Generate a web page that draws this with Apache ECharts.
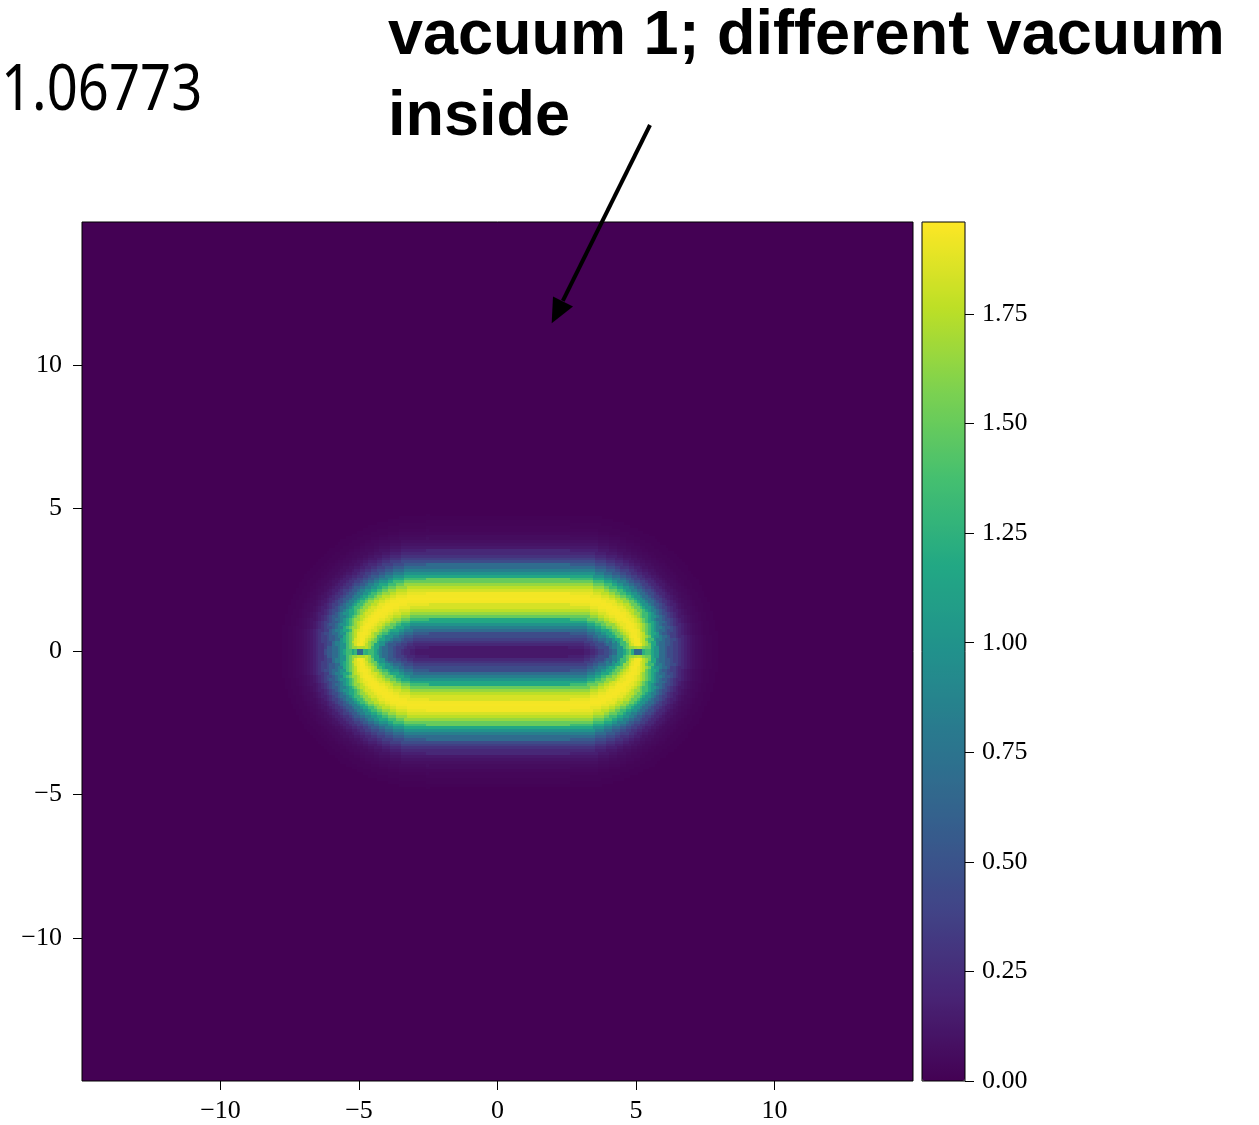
<!DOCTYPE html>
<html>
<head>
<meta charset="utf-8">
<title>vacuum 1; different vacuum inside</title>
<script src="https://cdn.jsdelivr.net/npm/echarts@6.0.0/dist/echarts.min.js"></script>
<style>
  html, body { margin: 0; padding: 0; background: #fff; }
  #chart { width: 1259px; height: 1125px; }
</style>
</head>
<body>
<div id="chart"></div>
<script>
// texts
const frameLabel = '1.06773';
const noteLines = ['vacuum 1; different vacuum', 'inside'];

// ticks
const xTicks = [-10, -5, 0, 5, 10];
const yTicks = [-10, -5, 0, 5, 10];
const barTicks = [0, 0.25, 0.5, 0.75, 1, 1.25, 1.5, 1.75];
const valueMax = 1.96;

// centre line of the upper wall (lower wall = mirror)
const wallX = [-4.95, -4.93, -4.88, -4.80, -4.70, -4.50, -4.30, -3.90, -3.50, -3.00, -2.50,
  0, 2.65, 3.15, 3.65, 4.05, 4.45, 4.65, 4.85, 4.95, 5.03, 5.08, 5.10];
const wallY = [0, 0.24, 0.45, 0.66, 0.84, 1.10, 1.29, 1.56, 1.73, 1.86, 1.90,
  1.90, 1.90, 1.86, 1.73, 1.56, 1.29, 1.10, 0.84, 0.66, 0.45, 0.24, 0];

// value across the wall, every 0.1 of distance from its centre line
const wallProfile = [1.94, 1.93, 1.90, 1.84, 1.76, 1.65, 1.50, 1.34, 1.17, 1.00,
  0.84, 0.69, 0.56, 0.45, 0.36, 0.28, 0.22, 0.17, 0.13, 0.10,
  0.08, 0.06, 0.05, 0.04, 0.03, 0.02, 0.02, 0.01, 0.01, 0, 0];

// the wall gets thinner close to the points where the two walls meet:
// relative thickness every 0.25 of distance from such a point
const wallThickness = [0.5, 0.55, 0.65, 0.75, 0.85, 0.93, 1];

// small dark node at the meeting points, every 0.05 of distance
const nodeFactor = [0.1, 0.35, 0.7, 0.9, 1];

// viridis
const viridis = ['#440154', '#482475', '#414487', '#355f8d', '#2a788e', '#21918c',
  '#22a884', '#44bf70', '#7ad151', '#bddf26', '#fde725'];

const cell = 0.1;
const pinchX = [wallX[0], wallX[wallX.length - 1]];

function segDist(px, py, ax, ay, bx, by) {
  const dx = bx - ax, dy = by - ay;
  let t = ((px - ax) * dx + (py - ay) * dy) / (dx * dx + dy * dy);
  t = Math.max(0, Math.min(1, t));
  return Math.hypot(px - ax - t * dx, py - ay - t * dy);
}

function wallDist(x, y) {
  let best = Infinity;
  for (let k = 0; k < wallX.length - 1; k++) {
    best = Math.min(best,
      segDist(x, y, wallX[k], wallY[k], wallX[k + 1], wallY[k + 1]),
      segDist(x, y, wallX[k], -wallY[k], wallX[k + 1], -wallY[k + 1]));
  }
  return best;
}

const pick = (table, d, step) => table[Math.min(Math.round(d / step), table.length - 1)];

const cells = [];
for (let i = -85; i <= 85; i++) {
  for (let j = -53; j <= 52; j++) {
    const x = +(i * cell).toFixed(2), y = +((j + 0.5) * cell).toFixed(2);
    const px = Math.abs(x - pinchX[0]) < Math.abs(x - pinchX[1]) ? pinchX[0] : pinchX[1];
    const r = Math.hypot(x - px, y);
    let v = pick(wallProfile, wallDist(x, y) / pick(wallThickness, r, 0.25), 0.1);
    v *= pick(nodeFactor, Math.hypot((x - px) / 2.5, y), 0.05);
    if (v > 0) cells.push([x, y, +v.toFixed(3)]);
  }
}

const minus = v => (v < 0 ? '\u2212' + Math.abs(v) : String(v));
const tickFont = { fontFamily: 'Liberation Serif', fontSize: 26, color: '#000' };
const tickLine = { length: 9, lineStyle: { color: '#000', width: 1 } };

const chart = echarts.init(document.getElementById('chart'));
chart.setOption({
  animation: false,
  grid: [
    { left: 82, top: 222, width: 831, height: 859, show: true, backgroundColor: '#440154',
      borderColor: '#000', borderWidth: 1, outerBoundsMode: 'none' },
    { left: 922, top: 222, width: 43, height: 859, show: true, backgroundColor: 'transparent',
      borderColor: '#000', borderWidth: 1, z: 10, outerBoundsMode: 'none' }
  ],
  xAxis: [
    { type: 'value', gridIndex: 0, min: -15, max: 15, interval: 5, position: 'bottom',
      axisLine: { show: false, onZero: false }, splitLine: { show: false },
      axisTick: Object.assign({ customValues: xTicks }, tickLine),
      axisLabel: Object.assign({ customValues: xTicks, margin: 17, formatter: minus }, tickFont) },
    { type: 'value', gridIndex: 1, min: 0, max: 1, show: false }
  ],
  yAxis: [
    { type: 'value', gridIndex: 0, min: -15, max: 15, interval: 5, position: 'left',
      axisLine: { show: false, onZero: false }, splitLine: { show: false },
      axisTick: Object.assign({ customValues: yTicks }, tickLine),
      axisLabel: Object.assign({ customValues: yTicks, margin: 20, formatter: minus }, tickFont) },
    { type: 'value', gridIndex: 1, min: 0, max: valueMax, position: 'right',
      axisLine: { show: false, onZero: false }, splitLine: { show: false },
      axisTick: Object.assign({ customValues: barTicks }, tickLine),
      axisLabel: Object.assign({ customValues: barTicks, margin: 17, formatter: v => v.toFixed(2) }, tickFont) }
  ],
  visualMap: {
    type: 'continuous', min: 0, max: valueMax, dimension: 2, seriesIndex: 0,
    left: 922, top: 222, itemWidth: 43, itemHeight: 859, padding: 0,
    calculable: false, hoverLink: false, z: 4,
    inRange: { color: viridis }
  },
  series: [{
    type: 'custom', xAxisIndex: 0, yAxisIndex: 0, data: cells,
    progressive: 0, silent: true, clip: true,
    renderItem(params, api) {
      const a = api.coord([api.value(0) - cell / 2, api.value(1) + cell / 2]);
      const b = api.coord([api.value(0) + cell / 2, api.value(1) - cell / 2]);
      const x0 = Math.floor(a[0]), y0 = Math.floor(a[1]);
      return {
        type: 'rect',
        shape: { x: x0, y: y0, width: Math.ceil(b[0]) - x0, height: Math.ceil(b[1]) - y0 },
        style: { fill: api.visual('color') }
      };
    }
  }],
  graphic: [
    { type: 'text', x: 1, y: 60, scaleX: 0.85,
      style: { text: frameLabel, font: '64px "Noto Sans"', fill: '#000', verticalAlign: 'top' } },
    { type: 'text', x: 388, y: 5,
      style: { text: noteLines[0], font: 'bold 63px "Liberation Sans"', fill: '#000', verticalAlign: 'top' } },
    { type: 'text', x: 388, y: 86,
      style: { text: noteLines[1], font: 'bold 63px "Liberation Sans"', fill: '#000', verticalAlign: 'top' } },
    { type: 'line', z: 20, shape: { x1: 650, y1: 125, x2: 562.8, y2: 300.9 },
      style: { stroke: '#000', lineWidth: 4 } },
    { type: 'polygon', z: 20, shape: { points: [[551.7, 323.3], [573, 306.5], [553, 296.5]] },
      style: { fill: '#000' } }
  ]
});
</script>
</body>
</html>
